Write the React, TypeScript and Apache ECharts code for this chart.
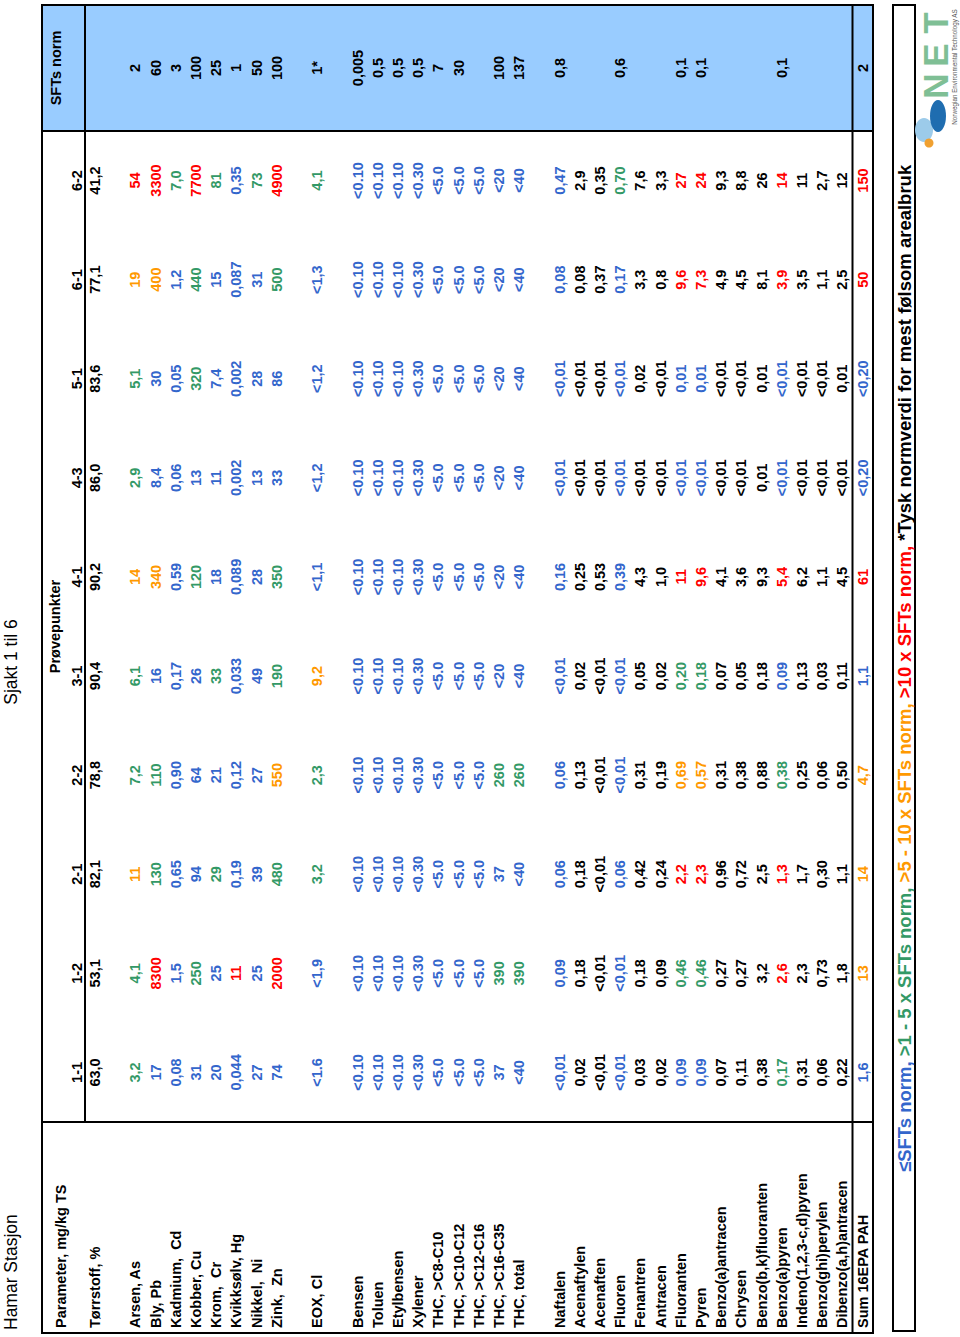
import React, { useEffect, useRef } from "react";
import * as echarts from "echarts";

const W = 960;
const H = 1337;

// ---------- DATA ----------
const title = "Hamar Stasjon";
const subtitle = "Sjakt 1 til 6";
const paramHeader = "Parameter, mg/kg TS";
const groupHeader = "Prøvepunkter";
const normHeader = "SFTs norm";

const parameters = [
  "Tørrstoff, %", "",
  "Arsen, As", "Bly, Pb", "Kadmium,  Cd", "Kobber, Cu", "Krom,  Cr", "Kvikksølv, Hg", "Nikkel,  Ni", "Zink,  Zn", "",
  "EOX, Cl", "",
  "Bensen", "Toluen", "Etylbensen", "Xylener", "THC, >C8-C10", "THC, >C10-C12", "THC, >C12-C16", "THC, >C16-C35", "THC, total", "",
  "Naftalen", "Acenaftylen", "Acenaften", "Fluoren", "Fenantren", "Antracen", "Fluoranten", "Pyren",
  "Benzo(a)antracen", "Chrysen", "Benzo(b,k)fluoranten", "Benzo(a)pyren", "Indeno(1,2,3-c,d)pyren",
  "Benzo(ghi)perylen", "Dibenzo(a,h)antracen",
  "Sum 16EPA PAH",
];

const sftsNorm = [
  "", "",
  "2", "60", "3", "100", "25", "1", "50", "100", "",
  "1*", "",
  "0,005", "0,5", "0,5", "0,5", "7", "30", "", "100", "137", "",
  "0,8", "", "", "0,6", "", "", "0,1", "0,1", "", "", "", "0,1", "", "", "",
  "2",
];

const samples = ["1-1", "1-2", "2-1", "2-2", "3-1", "4-1", "4-3", "5-1", "6-1", "6-2"];

const v1_1 = ["63,0", "", "3,2", "17", "0,08", "31", "20", "0,044", "27", "74", "", "<1.6", "",
  "<0.10", "<0.10", "<0.10", "<0.30", "<5.0", "<5.0", "<5.0", "37", "<40", "",
  "<0,01", "0,02", "<0,01", "<0,01", "0,03", "0,02", "0,09", "0,09", "0,07", "0,11", "0,38", "0,17", "0,31", "0,06", "0,22", "1,6"];
const v1_2 = ["53,1", "", "4,1", "8300", "1,5", "250", "25", "11", "25", "2000", "", "<1,9", "",
  "<0.10", "<0.10", "<0.10", "<0.30", "<5.0", "<5.0", "<5.0", "390", "390", "",
  "0,09", "0,18", "<0,01", "<0,01", "0,18", "0,09", "0,46", "0,46", "0,27", "0,27", "3,2", "2,6", "2,3", "0,73", "1,8", "13"];
const v2_1 = ["82,1", "", "11", "130", "0,65", "94", "29", "0,19", "39", "480", "", "3,2", "",
  "<0.10", "<0.10", "<0.10", "<0.30", "<5.0", "<5.0", "<5.0", "37", "<40", "",
  "0,06", "0,18", "<0,01", "0,06", "0,42", "0,24", "2,2", "2,3", "0,96", "0,72", "2,5", "1,3", "1,7", "0,30", "1,1", "14"];
const v2_2 = ["78,8", "", "7,2", "110", "0,90", "64", "21", "0,12", "27", "550", "", "2,3", "",
  "<0.10", "<0.10", "<0.10", "<0.30", "<5.0", "<5.0", "<5.0", "260", "260", "",
  "0,06", "0,13", "<0,01", "<0,01", "0,31", "0,19", "0,69", "0,57", "0,31", "0,38", "0,88", "0,38", "0,25", "0,06", "0,50", "4,7"];
const v3_1 = ["90,4", "", "6,1", "16", "0,17", "26", "33", "0,033", "49", "190", "", "9,2", "",
  "<0.10", "<0.10", "<0.10", "<0.30", "<5.0", "<5.0", "<5.0", "<20", "<40", "",
  "<0,01", "0,02", "<0,01", "<0,01", "0,05", "0,02", "0,20", "0,18", "0,07", "0,05", "0,18", "0,09", "0,13", "0,03", "0,11", "1,1"];
const v4_1 = ["90,2", "", "14", "340", "0,59", "120", "18", "0,089", "28", "350", "", "<1,1", "",
  "<0.10", "<0.10", "<0.10", "<0.30", "<5.0", "<5.0", "<5.0", "<20", "<40", "",
  "0,16", "0,25", "0,53", "0,39", "4,3", "1,0", "11", "9,6", "4,1", "3,6", "9,3", "5,4", "6,2", "1,1", "4,5", "61"];
const v4_3 = ["86,0", "", "2,9", "8,4", "0,06", "13", "11", "0,002", "13", "33", "", "<1,2", "",
  "<0.10", "<0.10", "<0.10", "<0.30", "<5.0", "<5.0", "<5.0", "<20", "<40", "",
  "<0,01", "<0,01", "<0,01", "<0,01", "<0,01", "<0,01", "<0,01", "<0,01", "<0,01", "<0,01", "0,01", "<0,01", "<0,01", "<0,01", "<0,01", "<0,20"];
const v5_1 = ["83,6", "", "5,1", "30", "0,05", "320", "7,4", "0,002", "28", "86", "", "<1,2", "",
  "<0.10", "<0.10", "<0.10", "<0.30", "<5.0", "<5.0", "<5.0", "<20", "<40", "",
  "<0,01", "<0,01", "<0,01", "<0,01", "0,02", "<0,01", "0,01", "0,01", "<0,01", "<0,01", "0,01", "<0,01", "<0,01", "<0,01", "0,01", "<0,20"];
const v6_1 = ["77,1", "", "19", "400", "1,2", "440", "15", "0,087", "31", "500", "", "<1,3", "",
  "<0.10", "<0.10", "<0.10", "<0.30", "<5.0", "<5.0", "<5.0", "<20", "<40", "",
  "0,08", "0,08", "0,37", "0,17", "3,3", "0,8", "9,6", "7,3", "4,9", "4,5", "8,1", "3,9", "3,5", "1,1", "2,5", "50"];
const v6_2 = ["41,2", "", "54", "3300", "7,0", "7700", "81", "0,35", "73", "4900", "", "4,1", "",
  "<0.10", "<0.10", "<0.10", "<0.30", "<5.0", "<5.0", "<5.0", "<20", "<40", "",
  "0,47", "2,9", "0,35", "0,70", "7,6", "3,3", "27", "24", "9,3", "8,8", "26", "14", "11", "2,7", "12", "150"];

// exceedance class per cell: 0 = no norm, 1 = <= norm, 2 = >1-5x, 3 = >5-10x, 4 = >10x, - = empty row
const c1_1 = "0 - 21111111 - 1 - 111111111 - 100100110002000 1";
const c1_2 = "0 - 24121414 - 1 - 111111122 - 100100220004000 3";
const c2_1 = "0 - 32112112 - 2 - 111111111 - 100100440004000 3";
const c2_2 = "0 - 22111113 - 2 - 111111122 - 100100330002000 3";
const c3_1 = "0 - 21112112 - 3 - 111111111 - 100100220001000 1";
const c4_1 = "0 - 33121112 - 1 - 111111111 - 100100440004000 4";
const c4_3 = "0 - 21111111 - 1 - 111111111 - 100100110001000 1";
const c5_1 = "0 - 21121111 - 1 - 111111111 - 100100110001000 1";
const c6_1 = "0 - 33121112 - 1 - 111111111 - 100100440004000 4";
const c6_2 = "0 - 44242124 - 2 - 111111111 - 100200440004000 4";

const legendParts = ["≤SFTs norm, ", ">1 - 5 x SFTs norm, ", ">5 - 10 x SFTs norm, ", ">10 x SFTs norm, ", "*Tysk normverdi for mest følsom arealbruk"];
const logoText = "NET";
const logoSub = "Norwegian Environmental Technology AS";

// ---------- STYLE / LAYOUT ----------
const FAMILY = "'Liberation Sans', Arial, Helvetica, sans-serif";
const CLASS_COLORS: Record<string, string> = { "0": "#000000", "1": "#3366CC", "2": "#339966", "3": "#FF9900", "4": "#FF0000" };
const LEGEND_COLORS = ["#3366CC", "#339966", "#FF9900", "#FF0000", "#000000"];

// local (rotated) frame: u = along the page upwards, v = across the page rightwards
const U0 = 4, U1 = 1332, PARAM_U1 = 215, NORM_U0 = 1206;
const V0 = 42, HEAD_V1 = 85, SUM_V0 = 852.5, V1 = 873;
const ROW_V0 = 95, ROW_PITCH = 20.2;

function text(t: string, u: number, v: number, opt: any = {}) {
  const align = opt.align || "center";
  return {
    type: "text",
    x: u,
    y: v,
    silent: true,
    style: {
      text: t,
      fill: opt.fill || "#000",
      fontSize: opt.fontSize || 14.5,
      fontWeight: opt.fontWeight || "bold",
      fontFamily: FAMILY,
      align,
      textAlign: align,
      verticalAlign: "middle",
      textVerticalAlign: "middle",
    },
  };
}

function line(x1: number, y1: number, x2: number, y2: number, w = 2) {
  return { type: "line", silent: true, shape: { x1, y1, x2, y2 }, style: { stroke: "#000", lineWidth: w } };
}

function buildChildren() {
  const ch: any[] = [];
  const sampleValues = [v1_1, v1_2, v2_1, v2_2, v3_1, v4_1, v4_3, v5_1, v6_1, v6_2];
  const sampleClasses = [c1_1, c1_2, c2_1, c2_2, c3_1, c4_1, c4_3, c5_1, c6_1, c6_2].map((s) => s.replace(/ /g, ""));
  const colW = (NORM_U0 - PARAM_U1) / samples.length;
  const rowV = (i: number) => ROW_V0 + ROW_PITCH * i;

  // blue norm column
  ch.push({ type: "rect", silent: true, shape: { x: NORM_U0, y: V0, width: U1 - NORM_U0, height: V1 - V0 }, style: { fill: "#99CCFF" } });

  // titles
  ch.push(text(title, 7, 11, { align: "left", fontWeight: "normal", fontSize: 17.5 }));
  ch.push(text(subtitle, 675, 11, { fontWeight: "normal", fontSize: 17.5 }));

  // headers
  ch.push(text(paramHeader, 9, 61, { align: "left" }));
  ch.push(text(groupHeader, (PARAM_U1 + NORM_U0) / 2, 55));
  ch.push(text(normHeader, (NORM_U0 + U1) / 2, 56));
  samples.forEach((s, k) => ch.push(text(s, PARAM_U1 + colW * (k + 0.5), 77)));

  // rows
  parameters.forEach((p, i) => {
    if (p) ch.push(text(p, 9, rowV(i), { align: "left" }));
    if (sftsNorm[i]) ch.push(text(sftsNorm[i], (NORM_U0 + U1) / 2, rowV(i)));
  });
  sampleValues.forEach((vals, k) => {
    const cu = PARAM_U1 + colW * (k + 0.5);
    vals.forEach((val, i) => {
      if (!val) return;
      const cls = sampleClasses[k][i];
      ch.push(text(val, cu, rowV(i), { fill: CLASS_COLORS[cls] || "#000" }));
    });
  });

  // grid lines
  ch.push({ type: "rect", silent: true, shape: { x: U0, y: V0, width: U1 - U0, height: V1 - V0 }, style: { fill: "none", stroke: "#000", lineWidth: 2 } });
  ch.push(line(PARAM_U1, HEAD_V1, U1, HEAD_V1));
  ch.push(line(PARAM_U1, V0, PARAM_U1, V1));
  ch.push(line(NORM_U0, V0, NORM_U0, V1));
  ch.push(line(U0, SUM_V0, U1, SUM_V0));

  // legend box
  ch.push({ type: "rect", silent: true, shape: { x: 6, y: 893, width: U1 - 6, height: 22 }, style: { fill: "none", stroke: "#000", lineWidth: 2 } });
  const rich: any = {};
  legendParts.forEach((_, j) => {
    rich["p" + j] = { fill: LEGEND_COLORS[j], fontSize: 18.5, fontWeight: "bold", fontFamily: FAMILY };
  });
  ch.push({
    type: "text",
    x: 165,
    y: 904,
    silent: true,
    style: {
      text: legendParts.map((t, j) => `{p${j}|${t}}`).join(""),
      rich,
      fontSize: 18.5,
      fontWeight: "bold",
      fontFamily: FAMILY,
      align: "left",
      textAlign: "left",
      verticalAlign: "middle",
      textVerticalAlign: "middle",
    },
  });

  // logo
  const letters = logoText.split("");
  const letterU = [1251, 1282, 1314];
  letters.forEach((l, j) => ch.push(text(l, letterU[j], 935, { fill: "#7FBF95", fontSize: 35, fontWeight: "900" })));
  ch.push({ type: "ellipse", silent: true, shape: { cx: 1207, cy: 924, rx: 12, ry: 9 }, style: { fill: "#9CCBEA" } });
  ch.push({ type: "ellipse", silent: true, shape: { cx: 1221, cy: 938, rx: 16, ry: 8 }, style: { fill: "#1F6DB0" } });
  ch.push({ type: "circle", silent: true, shape: { cx: 1194, cy: 929, r: 4.5 }, style: { fill: "#F0A030" } });
  ch.push(text(logoSub, 1270, 954, { fontSize: 6.3, fontWeight: "normal", fill: "#555" }));

  return ch;
}

export default function App() {
  const ref = useRef<HTMLDivElement>(null);
  useEffect(() => {
    document.body.style.margin = "0";
    document.body.style.overflow = "hidden";
    const chart = echarts.init(ref.current!, undefined, { renderer: "svg", width: W, height: H });
    chart.setOption({
      animation: false,
      backgroundColor: "#ffffff",
      graphic: {
        elements: [
          { type: "group", x: 0, y: H, rotation: Math.PI / 2, silent: true, children: buildChildren() },
        ],
      },
    });
    return () => chart.dispose();
  }, []);
  return <div ref={ref} style={{ width: W, height: H }} />;
}
